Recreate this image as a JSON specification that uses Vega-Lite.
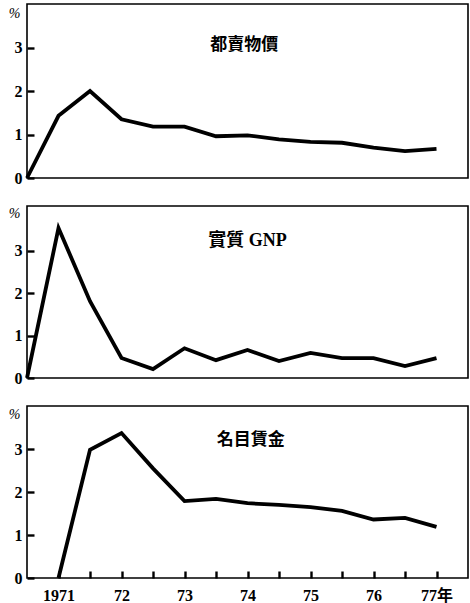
{
  "$schema": "https://vega.github.io/schema/vega-lite/v6.json",
  "background": "white",
  "padding": {"left": 7, "top": 3, "right": 2, "bottom": 2},
  "spacing": 18,
  "config": {
    "view": {"stroke": "black", "strokeWidth": 1.6},
    "axis": {
      "grid": false,
      "domain": false,
      "ticks": true,
      "tickColor": "black",
      "tickWidth": 2.4,
      "tickSize": -7,
      "labelPadding": 12,
      "labelFont": "Liberation Serif, Noto Sans CJK TC",
      "labelFontWeight": "bold",
      "labelFontSize": 16,
      "labelColor": "black",
      "titleColor": "black",
      "titleFont": "Liberation Serif",
      "titleFontStyle": "italic",
      "titleFontWeight": "normal",
      "titleFontSize": 14,
      "titleAngle": 0,
      "titleAlign": "center",
      "titleBaseline": "middle",
      "titleX": -13,
      "titleY": 9
    }
  },
  "vconcat": [
    {
      "width": 441,
      "height": 174,
      "layer": [
        {
          "data": {"values": [
            {"year": 1970.5, "value": 0},
            {"year": 1971, "value": 1.43},
            {"year": 1971.5, "value": 2.0},
            {"year": 1972, "value": 1.35},
            {"year": 1972.5, "value": 1.18},
            {"year": 1973, "value": 1.18},
            {"year": 1973.5, "value": 0.96},
            {"year": 1974, "value": 0.98},
            {"year": 1974.5, "value": 0.89},
            {"year": 1975, "value": 0.83},
            {"year": 1975.5, "value": 0.81},
            {"year": 1976, "value": 0.7},
            {"year": 1976.5, "value": 0.62},
            {"year": 1977, "value": 0.67}
          ]},
          "mark": {"type": "line", "color": "black", "strokeWidth": 3.8, "strokeJoin": "miter"},
          "encoding": {
            "x": {"field": "year", "type": "quantitative", "scale": {"domain": [1970.5, 1977.5], "nice": false, "zero": false}, "axis": null},
            "y": {"field": "value", "type": "quantitative", "scale": {"domain": [0, 4], "nice": false}, "axis": {"values": [0, 1, 2, 3], "title": "%"}}
          }
        },
        {
          "data": {"values": [{"label": "都賣物價"}]},
          "mark": {"type": "text", "font": "Liberation Serif, Noto Sans CJK TC", "fontSize": 17, "fontWeight": "bold", "color": "black"},
          "encoding": {
            "x": {"datum": 1973.95, "type": "quantitative"},
            "y": {"datum": 3.05, "type": "quantitative"},
            "text": {"field": "label"}
          }
        }
      ]
    },
    {
      "width": 441,
      "height": 172,
      "layer": [
        {
          "data": {"values": [
            {"year": 1970.5, "value": 0},
            {"year": 1971, "value": 3.53},
            {"year": 1971.5, "value": 1.81},
            {"year": 1972, "value": 0.47},
            {"year": 1972.5, "value": 0.21},
            {"year": 1973, "value": 0.7},
            {"year": 1973.5, "value": 0.42},
            {"year": 1974, "value": 0.66},
            {"year": 1974.5, "value": 0.4},
            {"year": 1975, "value": 0.59},
            {"year": 1975.5, "value": 0.47},
            {"year": 1976, "value": 0.47},
            {"year": 1976.5, "value": 0.28},
            {"year": 1977, "value": 0.47}
          ]},
          "mark": {"type": "line", "color": "black", "strokeWidth": 3.8, "strokeJoin": "miter"},
          "encoding": {
            "x": {"field": "year", "type": "quantitative", "scale": {"domain": [1970.5, 1977.5], "nice": false, "zero": false}, "axis": null},
            "y": {"field": "value", "type": "quantitative", "scale": {"domain": [0, 4.05], "nice": false}, "axis": {"values": [0, 1, 2, 3], "title": "%", "titleY": 7}}
          }
        },
        {
          "data": {"values": [{"label": "實質 GNP"}]},
          "mark": {"type": "text", "font": "Liberation Serif, Noto Sans CJK TC", "fontSize": 18, "fontWeight": "bold", "color": "black"},
          "encoding": {
            "x": {"datum": 1974.0, "type": "quantitative"},
            "y": {"datum": 3.22, "type": "quantitative"},
            "text": {"field": "label"}
          }
        }
      ]
    },
    {
      "width": 441,
      "height": 172,
      "layer": [
        {
          "data": {"values": [
            {"year": 1971, "value": 0},
            {"year": 1971.5, "value": 2.98},
            {"year": 1972, "value": 3.37},
            {"year": 1972.5, "value": 2.55},
            {"year": 1973, "value": 1.79},
            {"year": 1973.5, "value": 1.84},
            {"year": 1974, "value": 1.74},
            {"year": 1974.5, "value": 1.7},
            {"year": 1975, "value": 1.65},
            {"year": 1975.5, "value": 1.56},
            {"year": 1976, "value": 1.36},
            {"year": 1976.5, "value": 1.4},
            {"year": 1977, "value": 1.19}
          ]},
          "mark": {"type": "line", "color": "black", "strokeWidth": 3.8, "strokeJoin": "miter"},
          "encoding": {
            "x": {"field": "year", "type": "quantitative", "scale": {"domain": [1970.5, 1977.5], "nice": false, "zero": false},
              "axis": {"values": [1971, 1971.5, 1972, 1972.5, 1973, 1973.5, 1974, 1974.5, 1975, 1975.5, 1976, 1976.5, 1977],
                "tickCount": 30,
                "labelExpr": "datum.value == 1971 ? '1971' : (datum.value % 1 != 0 ? '' : (datum.value == 1977 ? '77年' : format(datum.value - 1900, 'd')))",
                "labelOverlap": false, "labelFlush": false, "labelPadding": 16, "labelFontSize": 16, "title": null}},
            "y": {"field": "value", "type": "quantitative", "scale": {"domain": [0, 4.0], "nice": false}, "axis": {"values": [0, 1, 2, 3], "title": "%", "titleY": 8}}
          }
        },
        {
          "data": {"values": [{"label": "名目賃金"}]},
          "mark": {"type": "text", "font": "Liberation Serif, Noto Sans CJK TC", "fontSize": 17, "fontWeight": "bold", "color": "black"},
          "encoding": {
            "x": {"datum": 1974.05, "type": "quantitative"},
            "y": {"datum": 3.2, "type": "quantitative"},
            "text": {"field": "label"}
          }
        }
      ]
    }
  ]
}
